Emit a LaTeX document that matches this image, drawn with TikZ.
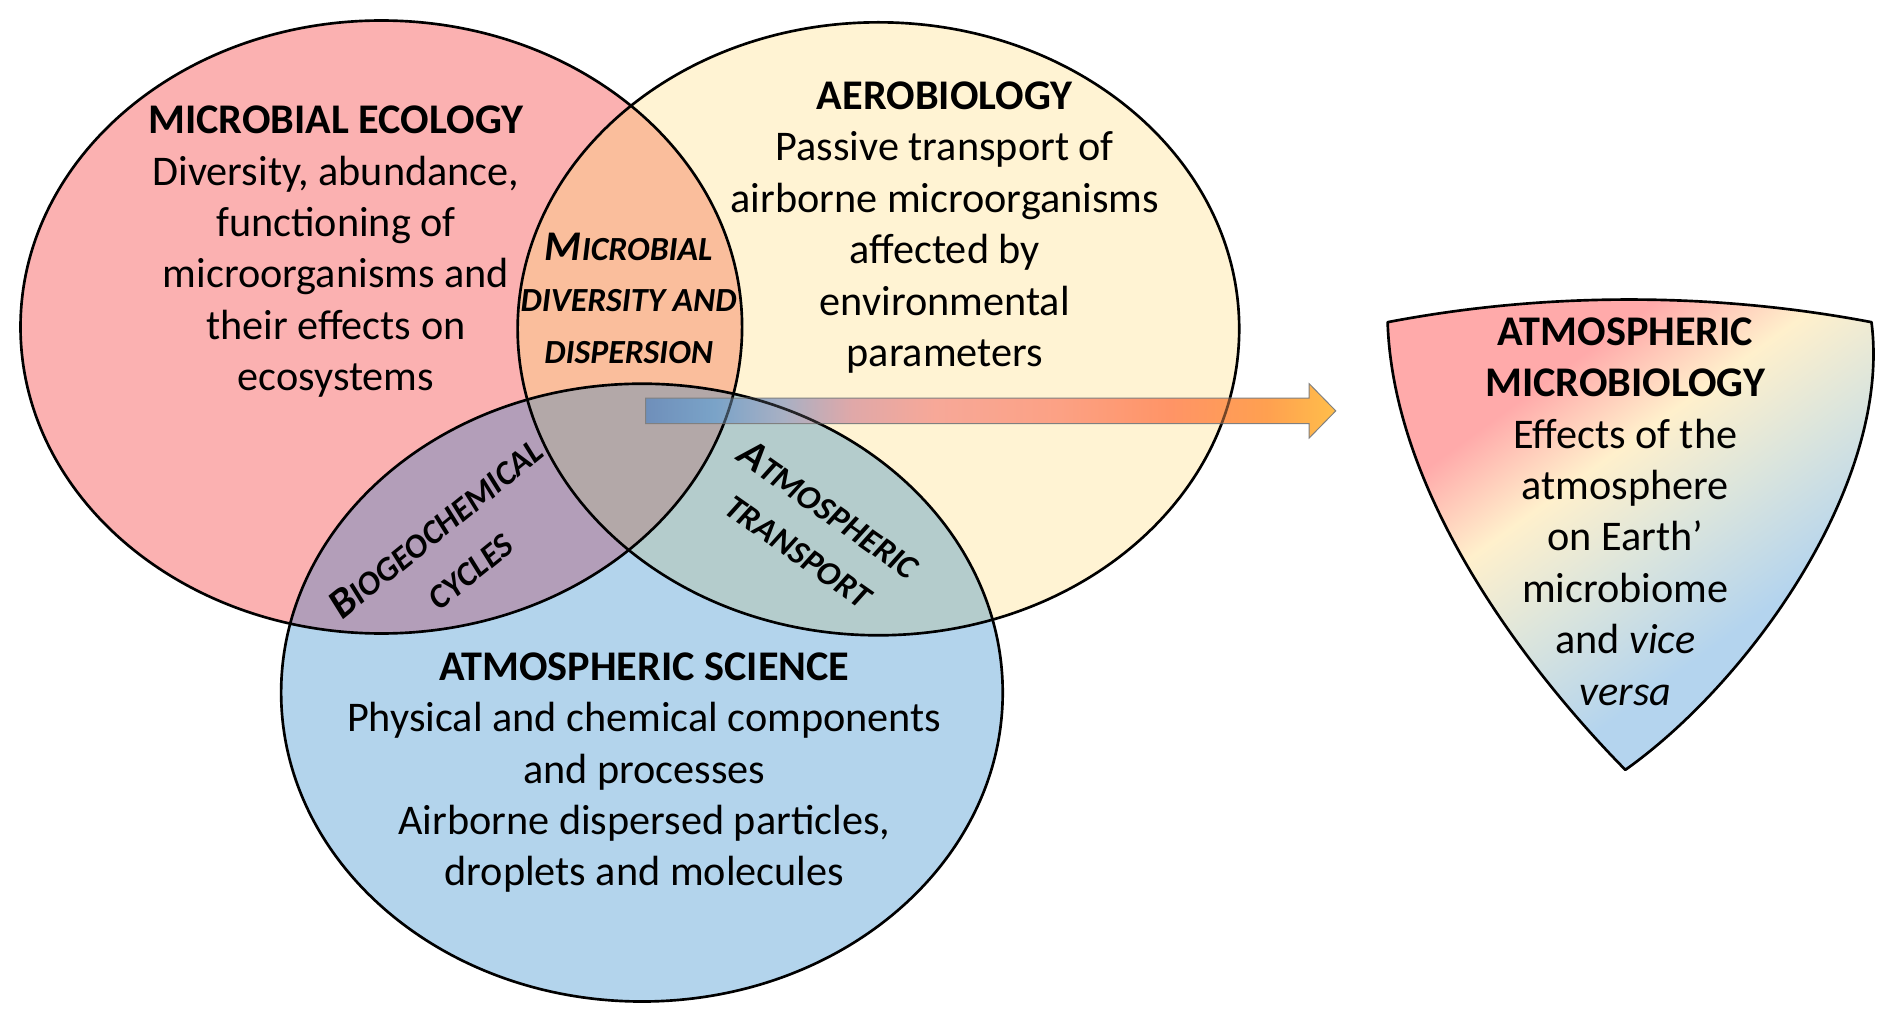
\documentclass[tikz,border=0pt]{standalone}
\usepackage{fontspec}
\setmainfont{Carlito}
\definecolor{cRed}{HTML}{FBB1B1}
\definecolor{cYel}{HTML}{FFF3D3}
\definecolor{cBlu}{HTML}{B3D4EC}
\definecolor{cRY}{HTML}{FABE9C}
\definecolor{cRB}{HTML}{B39EB9}
\definecolor{cYB}{HTML}{B4CCCC}
\definecolor{cRYB}{HTML}{B3A8A8}
\definecolor{aA}{HTML}{6F8FBA}
\definecolor{aB}{HTML}{7AA3C8}
\definecolor{aC}{HTML}{A8B0C4}
\definecolor{aD}{HTML}{E0A8A8}
\definecolor{aE}{HTML}{F7A898}
\definecolor{aF}{HTML}{FCA184}
\definecolor{aG}{HTML}{FF9466}
\definecolor{aH}{HTML}{FFA050}
\definecolor{aI}{HTML}{FFBE4A}
\definecolor{sPink}{HTML}{FFAAAA}
\definecolor{sCream}{HTML}{FFF0CC}
\definecolor{sGray}{HTML}{DCE5DC}
\definecolor{sBlue}{HTML}{B4D4EE}
\pgfdeclarehorizontalshading{arrowshade}{100bp}{color(0bp)=(aA); color(25bp)=(aA); color(30bp)=(aB); color(35bp)=(aC); color(40bp)=(aD); color(46bp)=(aE); color(55bp)=(aF); color(63bp)=(aG); color(70bp)=(aH); color(75bp)=(aI); color(100bp)=(aI)}
\pgfdeclarehorizontalshading{shieldshade}{100bp}{color(0bp)=(sPink); color(25bp)=(sPink); color(32bp)=(sPink); color(42bp)=(sCream); color(52bp)=(sGray); color(64bp)=(sBlue); color(100bp)=(sBlue)}
\newcommand\smc[1]{{\fontsize{28}{42.6}\selectfont #1}}
\begin{document}
\begin{tikzpicture}[x=1pt,y=-1pt]
\tikzset{
  outl/.style={draw=black, line width=2.2pt},
  txt/.style={align=center, inner sep=0pt, anchor=north, font=\fontsize{35}{42.6}\selectfont},
  rtxt/.style={inner sep=0pt, anchor=base, font=\fontsize{35}{42.6}\bfseries\itshape\selectfont}
}
\def\RedE{(316,271) ellipse [x radius=299pt, y radius=254pt]}
\def\YelE{(728,272.5) ellipse [x radius=299pt, y radius=254pt]}
\def\BluE{(532,574) ellipse [x radius=299pt, y radius=256pt]}
\def\ArrowP{(535,330) -- (1085,330) -- (1085,318) -- (ahead) -- (1085,363) -- (1085,351) -- (535,351) -- cycle}
\useasboundingbox (0,0) rectangle (1568,848);
\fill[white] (0,0) rectangle (1568,848);
% region fills
\fill[cRed] \RedE;
\fill[cYel] \YelE;
\fill[cBlu] \BluE;
\begin{scope}\clip \RedE; \fill[cRY] \YelE; \end{scope}
\begin{scope}\clip \RedE; \fill[cRB] \BluE; \end{scope}
\begin{scope}\clip \YelE; \fill[cYB] \BluE; \end{scope}
\begin{scope}\clip \RedE; \clip \YelE; \fill[cRYB] \BluE; \end{scope}
% outlines
\draw[outl] \RedE;
\draw[outl] \YelE;
\draw[outl] \BluE;
% arrow
\coordinate (atail) at (535,340.5);
\coordinate (ahead) at (1107,340.5);
\shadedraw[shading=arrowshade, draw=gray, line width=0.8pt] \ArrowP;
\begin{scope}
  \clip \ArrowP;
  \draw[outl, draw opacity=0.55] \RedE;
  \draw[outl, draw opacity=0.55] \YelE;
  \draw[outl, draw opacity=0.8] \BluE;
\end{scope}
% shield
\shadedraw[shading=shieldshade, shading angle=-54, line width=2.2pt, line join=round]
  (1150,267) .. controls (1155,420) and (1280,570) .. (1347,638)
  .. controls (1450,565) and (1568,400) .. (1551,267)
  .. controls (1420,242) and (1280,242) .. (1150,267) -- cycle;
% texts
\node[txt] (me) at (278.4,80.7) {\strut\textbf{MICROBIAL ECOLOGY}\\Diversity, abundance,\\functioning of\\microorganisms and\\their effects on\\ecosystems};
\node[txt] (aero) at (783,60.8) {\strut\textbf{AEROBIOLOGY}\\Passive transport of\\airborne microorganisms\\affected by\\environmental\\parameters};
\node[txt] (asci) at (534,533.8) {\strut\textbf{ATMOSPHERIC SCIENCE}\\Physical and chemical components\\and processes\\Airborne dispersed particles,\\droplets and molecules};
\node[txt] (amb) at (1347,256.2) {\strut\textbf{ATMOSPHERIC}\\\textbf{MICROBIOLOGY}\\Effects of the\\atmosphere\\on Earth’\\microbiome\\and \textit{vice}\\\textit{versa}};
\node[txt, font=\fontsize{35}{42.6}\bfseries\itshape\selectfont] (mdd) at (521,185.8) {\strut M\smc{ICROBIAL}\\\smc{DIVERSITY AND}\\\smc{DISPERSION}};
\node[rtxt, rotate=39] (bgc1) at (368,446) {B\smc{IOGEOCHEMICAL}};
\node[rtxt, rotate=39] (bgc2) at (396,481) {\smc{CYCLES}};
\node[rtxt, rotate=-35] (atr1) at (681,431) {A\smc{TMOSPHERIC}};
\node[rtxt, rotate=-35] (atr2) at (656,465) {\smc{TRANSPORT}};
\end{tikzpicture}
\end{document}
